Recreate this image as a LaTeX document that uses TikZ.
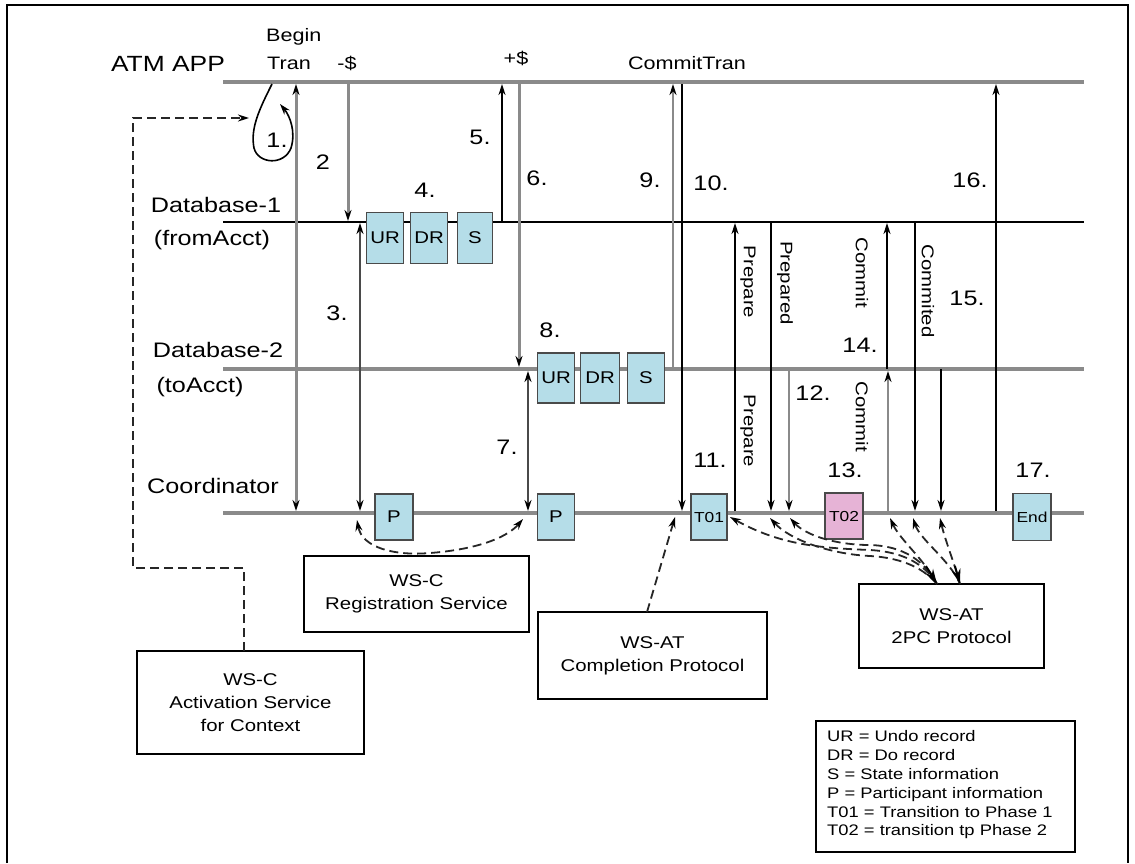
\documentclass[tikz,border=0pt]{standalone}
\usepackage{fontspec}
\setmainfont{Liberation Sans}[FakeStretch=1.2]
\usetikzlibrary{arrows.meta}
\definecolor{lifegray}{HTML}{8A8A8A}
\definecolor{boxblue}{HTML}{B5DDE8}
\definecolor{boxpink}{HTML}{E6B3D6}
\definecolor{boxedge}{HTML}{4A4A4A}
\newcommand\fsz[2]{\fontsize{#1}{#2}\selectfont}
\begin{document}
\begin{tikzpicture}[x=1pt,y=-1pt,
  >={Stealth[length=11pt,width=7pt,color=black]},
  lifethick/.style={draw=lifegray,line width=4pt},
  lifethin/.style={draw=black,line width=1.8pt},
  msg/.style={draw=black,line width=1.8pt},
  msggray/.style={draw=lifegray,line width=3pt},
  recbox/.style={draw=boxedge,line width=1.8pt,fill=boxblue,minimum width=37pt,inner sep=0pt,font=\fsz{17}{20}},
  svcbox/.style={draw=black,line width=1.5pt,align=center,inner sep=0pt,font=\fsz{17}{23}},
  num/.style={font=\fsz{21}{25},inner sep=0pt},
  lbl/.style={font=\fsz{21}{25},inner sep=0pt},
  toplbl/.style={font=\fsz{18}{22},inner sep=0pt},
  rot/.style={rotate=-90,font=\fsz{17}{20},inner sep=0pt},
  dashline/.style={draw=black!85,line width=1.8pt,dash pattern=on 9pt off 5pt},
  bigtip/.style={-{Stealth[length=15pt,width=9pt,color=black]}}]
\useasboundingbox (0,0) rectangle (1135,863);
\fill[white] (0,0) rectangle (1135,863);
% frame
\draw[line width=1.2pt] (7,863) -- (7,5) -- (1128,5) -- (1128,863);

% lifelines
\coordinate (atmL) at (223,82); \coordinate (atmR) at (1084,82);
\coordinate (db1L) at (223,222); \coordinate (db1R) at (1084,222);
\coordinate (db2L) at (223,369); \coordinate (db2R) at (1084,369);
\coordinate (coL) at (223,513); \coordinate (coR) at (1084,513);
\draw[lifethick] (atmL) -- (atmR);
\draw[lifethin] (db1L) -- (db1R);
\draw[lifethick] (db2L) -- (db2R);
\draw[lifethick] (coL) -- (coR);

% lifeline labels
\node[lbl,font=\fsz{22}{26}] (tATM) at (168,64) {ATM APP};
\node[lbl] (tDB1) at (216,205) {Database-1};
\node[lbl] (tDB1b) at (212,240) {(fromAcct)};
\node[lbl] (tDB2) at (218,350) {Database-2};
\node[lbl] (tDB2b) at (200,387) {(toAcct)};
\node[lbl] (tCO) at (213,486) {Coordinator};

% top labels
\node[toplbl,anchor=west] (tBegin) at (266,37) {Begin};
\node[toplbl,anchor=west] (tTran) at (267,63) {Tran};
\node[toplbl] (tMinus) at (347,63) {-\$};
\node[toplbl] (tPlus) at (516,58) {+\$};
\node[toplbl] (tCommit) at (687,63) {CommitTran};

% message coordinates
\coordinate (a1) at (296,84);  \coordinate (a2) at (296,511);
\coordinate (b1) at (348,84);  \coordinate (b2) at (348,221);
\coordinate (c1) at (360,223); \coordinate (c2) at (360,511);
\coordinate (d1) at (502,221); \coordinate (d2) at (502,84);
\coordinate (e1) at (519,84);  \coordinate (e2) at (519,367);
\coordinate (f1) at (528,371); \coordinate (f2) at (528,511);
\coordinate (g1) at (673,369); \coordinate (g2) at (673,84);
\coordinate (h1) at (682,84);  \coordinate (h2) at (682,511);
\coordinate (i1) at (735,511); \coordinate (i2) at (735,223);
\coordinate (j1) at (771,222); \coordinate (j2) at (771,511);
\coordinate (k1) at (789,369); \coordinate (k2) at (789,511);
\coordinate (l1) at (888,511); \coordinate (l2) at (888,371);
\coordinate (m1) at (887,369); \coordinate (m2) at (887,223);
\coordinate (n1) at (915,222); \coordinate (n2) at (915,511);
\coordinate (o1) at (941,369); \coordinate (o2) at (941,511);
\coordinate (p1) at (996,511); \coordinate (p2) at (996,84);

\draw[msggray,<->] (a1) -- (a2);
\draw[msggray,->] (b1) -- (b2);
\draw[msg,draw=boxedge,<->] (c1) -- (c2);
\draw[msg,->] (d1) -- (d2);
\draw[msggray,->] (e1) -- (e2);
\draw[msg,draw=boxedge,<->] (f1) -- (f2);
\draw[msggray,line width=2.5pt,->] (g1) -- (g2);
\draw[msg,->] (h1) -- (h2);
\draw[msg,->] (i1) -- (i2);
\draw[msg,->] (j1) -- (j2);
\draw[msggray,line width=2.5pt,->] (k1) -- (k2);
\draw[msggray,line width=2.5pt,->] (l1) -- (l2);
\draw[msg,->] (m1) -- (m2);
\draw[msg,->] (n1) -- (n2);
\draw[msg,->] (o1) -- (o2);
\draw[msg,->] (p1) -- (p2);

% loop 1
\coordinate (lp0) at (272,84);
\coordinate (lp1) at (280,104);
\draw[line width=1.6pt,->] (lp0) .. controls (260,108) and (250,128) .. (254,148)
  .. controls (258,164) and (284,166) .. (291,148)
  .. controls (296,132) and (290,116) .. (lp1);

% record boxes
\node[recbox,minimum height=51pt] (ur1) at (385,238) {UR};
\node[recbox,minimum height=51pt] (dr1) at (429,238) {DR};
\node[recbox,minimum height=51pt,minimum width=35pt] (s1) at (475,238) {S};
\node[recbox,minimum height=50pt] (ur2) at (556,378) {UR};
\node[recbox,minimum height=50pt,minimum width=39pt] (dr2) at (600,378) {DR};
\node[recbox,minimum height=50pt] (s2) at (646,378) {S};
\node[recbox,minimum height=46pt,minimum width=38pt] (pp1) at (394,517) {P};
\node[recbox,minimum height=46pt] (pp2) at (556,517) {P};
\node[recbox,minimum height=46pt,minimum width=36pt,font=\fsz{14.5}{17}] (t01) at (709,517) {T01};
\node[recbox,fill=boxpink,minimum height=46pt,minimum width=38pt,font=\fsz{14.5}{17}] (t02) at (844,516) {T02};
\node[recbox,minimum height=47pt,minimum width=38pt,font=\fsz{14.5}{17}] (end) at (1032,517) {End};

% numbers
\node[num] (n1l) at (277,140) {1.};
\node[num] (n2l) at (323,162) {2};
\node[num] (n3l) at (337,313) {3.};
\node[num] (n4l) at (425,190) {4.};
\node[num] (n5l) at (480,137) {5.};
\node[num] (n6l) at (537,178) {6.};
\node[num] (n7l) at (507,447) {7.};
\node[num] (n8l) at (550,330) {8.};
\node[num] (n9l) at (650,180) {9.};
\node[num] (n10l) at (711,183) {10.};
\node[num] (n11l) at (710,460) {11.};
\node[num] (n12l) at (813,393) {12.};
\node[num] (n13l) at (845,470) {13.};
\node[num] (n14l) at (860,345) {14.};
\node[num] (n15l) at (967,298) {15.};
\node[num] (n16l) at (970,180) {16.};
\node[num] (n17l) at (1033,470) {17.};

% rotated labels
\node[rot] (rPrep1) at (748,282) {Prepare};
\node[rot] (rPrep2) at (748,431) {Prepare};
\node[rot] (rPrepd) at (785,283) {Prepared};
\node[rot] (rCom1) at (862,273) {Commit};
\node[rot] (rCom2) at (862,417) {Commit};
\node[rot] (rComd) at (928,291) {Commited};

% service boxes
\node[svcbox,minimum width=225pt,minimum height=76pt] (reg) at (416.5,594) {WS-C\\Registration Service};
\node[svcbox,minimum width=229pt,minimum height=87pt] (compl) at (652.5,655.5) {WS-AT\\Completion Protocol};
\node[svcbox,minimum width=185pt,minimum height=84pt] (twopc) at (951.5,626) {WS-AT\\2PC Protocol};
\node[svcbox,minimum width=227pt,minimum height=103pt] (act) at (250.5,702.5) {WS-C\\Activation Service\\for Context};

% legend
\node[draw=black,line width=1.5pt,minimum width=259pt,minimum height=131pt,inner sep=0pt] (legend) at (945.5,786.5) {};
\node[anchor=west,align=left,inner sep=0pt,font=\fsz{15.3}{18.8}] (legtext) at (827,785) {UR = Undo record\\DR = Do record\\S = State information\\P = Participant information\\T01 = Transition to Phase 1\\T02 = transition tp Phase 2};

% dashed connectors
\coordinate (actTop) at (244,651);
\coordinate (loopIn) at (249,118);
\draw[dashline,->] (actTop) -- (244,568) -- (133,568) -- (133,118) -- (loopIn);

\coordinate (regA) at (357,520);
\coordinate (regB) at (523,519);
\draw[dashline,<->] (regA) .. controls (362,548) and (395,556) .. (430,553)
  .. controls (470,550) and (505,540) .. (regB);

\coordinate (complTop) at (647,612);
\coordinate (complA) at (675,517);
\draw[dashline,->] (complTop) -- (complA);

\coordinate (pcA) at (937,584);
\coordinate (pcB) at (960,584);
\coordinate (q1) at (730,517);
\coordinate (q2) at (770,518);
\coordinate (q3) at (790,518);
\coordinate (q4) at (890,518);
\coordinate (q5) at (913,518);
\coordinate (q6) at (940,518);
\draw[dashline,<-] (q1) .. controls (780,545) and (820,548) .. (870,550) .. controls (905,552) and (925,565) .. (pcA);
\draw[dashline,<-] (q2) .. controls (790,540) and (830,554) .. (870,556) .. controls (905,558) and (925,570) .. (pcA);
\draw[dashline,<-] (q3) .. controls (805,535) and (835,545) .. (870,545) .. controls (905,546) and (925,562) .. (pcA);
\draw[dashline,<-] (q4) .. controls (900,540) and (925,560) .. (pcA);
\draw[dashline,<-] (q5) .. controls (920,540) and (950,560) .. (pcB);
\draw[dashline,<-] (q6) .. controls (945,540) and (955,565) .. (pcB);
\coordinate (pcAs) at (926,566);
\coordinate (pcBs) at (955,566);
\draw[bigtip,line width=1.8pt] (pcAs) -- (pcA);
\draw[bigtip,line width=1.8pt] (pcBs) -- (pcB);
\end{tikzpicture}
\end{document}
